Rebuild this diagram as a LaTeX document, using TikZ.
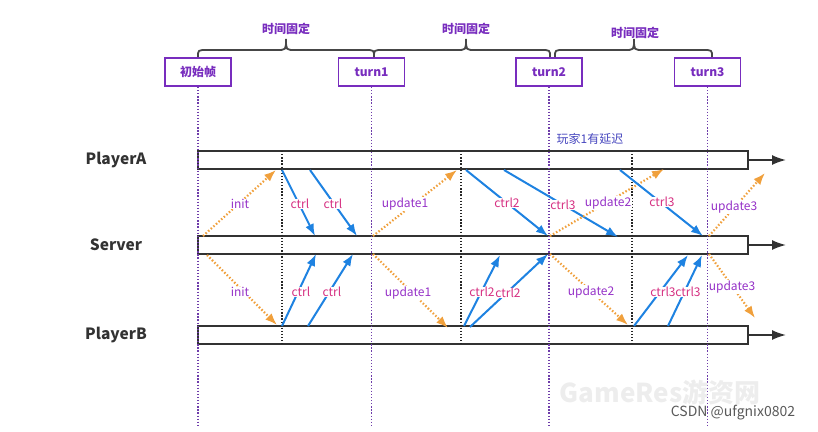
\documentclass[tikz,border=0pt]{standalone}
\usepackage{fontspec}
\setmainfont{Noto Sans CJK SC}
\usetikzlibrary{arrows.meta}
\definecolor{barc}{RGB}{50,50,50}
\definecolor{boxc}{RGB}{120,45,190}
\definecolor{vpur}{RGB}{110,60,170}
\definecolor{bluec}{RGB}{30,130,225}
\definecolor{orc}{RGB}{240,160,60}
\definecolor{ctrlc}{RGB}{214,48,130}
\definecolor{updc}{RGB}{150,50,200}
\definecolor{delayc}{RGB}{70,70,190}
\definecolor{bracec}{RGB}{70,70,70}
\tikzset{
  bar/.style={draw=barc, line width=1.7pt, fill=white, minimum width=550pt, minimum height=18pt, inner sep=0pt},
  tbox/.style={draw=boxc, line width=1.8pt, minimum width=66pt, minimum height=28pt, inner sep=0pt, text=boxc, font=\bfseries\fontsize{12}{14}\selectfont},
  pdot/.style={draw=vpur, line width=1.6pt, dash pattern=on 1.3pt off 1.8pt},
  kdot/.style={draw=black!85, line width=1.6pt, dash pattern=on 1.3pt off 1.8pt},
  bmsg/.style={draw=bluec, line width=2pt, -{Latex[length=12pt,width=9pt]}},
  omsg/.style={draw=orc, line width=2.2pt, dash pattern=on 1.5pt off 2pt, -{Latex[length=12pt,width=9pt]}},
  barrow/.style={draw=barc, line width=1.7pt, -{Latex[length=14pt,width=10pt]}},
  brc/.style={draw=bracec, line width=1.8pt},
  plbl/.style={text=barc, font=\bfseries\fontsize{15.5}{18}\selectfont},
  clbl/.style={fill=white, inner sep=0.6pt, text=ctrlc, font=\fontsize{12}{14}\selectfont},
  ulbl/.style={fill=white, inner sep=0.6pt, text=updc, font=\fontsize{12}{14}\selectfont},
  tlbl/.style={text=boxc, font=\bfseries\fontsize{12}{14}\selectfont},
}
\begin{document}
\begin{tikzpicture}[x=1pt,y=-1pt]
\useasboundingbox (0,0) rectangle (818,431);
% top boxes
\node[tbox] (b0) at (198,72) {初始帧};
\node[tbox] (b1) at (371.5,72) {turn1};
\node[tbox] (b2) at (549,72) {turn2};
\node[tbox] (b3) at (707.5,72) {turn3};
% braces
\draw[brc] (198,57) .. controls (198,50) .. (207,50) -- (277,50) .. controls (286,50) .. (286,39) .. controls (286,50) .. (295,50) -- (365,50) .. controls (374,50) .. (374,57);
\draw[brc] (374,57) .. controls (374,50) .. (383,50) -- (457,50) .. controls (466,50) .. (466,39) .. controls (466,50) .. (475,50) -- (541,50) .. controls (550,50) .. (550,57);
\draw[brc] (555,57) .. controls (555,50) .. (564,50) -- (625,50) .. controls (634,50) .. (634,39) .. controls (634,50) .. (643,50) -- (703,50) .. controls (712,50) .. (712,57);
\node[tlbl] (t1) at (286,29) {时间固定};
\node[tlbl] (t2) at (466,29) {时间固定};
\node[tlbl] (t3) at (635,33) {时间固定};
% player labels
\node[plbl] (pa) at (116,160) {PlayerA};
\node[plbl] (sv) at (116,245) {Server};
\node[plbl] (pb) at (116,335) {PlayerB};
% bars
\node[bar] (barA) at (473,160) {};
\node[bar] (barS) at (473,245) {};
\node[bar] (barB) at (473,335) {};
\coordinate (eA) at (786,160);
\coordinate (eS) at (786,245);
\coordinate (eB) at (786,335);
\draw[barrow] (barA.east) -- (eA);
\draw[barrow] (barS.east) -- (eS);
\draw[barrow] (barB.east) -- (eB);
% vertical dotted lines
\coordinate (v0) at (198,425);
\coordinate (v1) at (371.5,425);
\coordinate (v2) at (549,425);
\coordinate (v3) at (707.5,425);
\draw[pdot] (b0.south) -- (v0);
\draw[pdot] (b1.south) -- (v1);
\draw[pdot] (b2.south) -- (v2);
\draw[pdot] (b3.south) -- (v3);
\coordinate (k1t) at (282,151); \coordinate (k1b) at (282,344);
\coordinate (k2t) at (461,151); \coordinate (k2b) at (461,344);
\coordinate (k3t) at (632,151); \coordinate (k3b) at (632,344);
\draw[kdot] (k1t) -- (k1b);
\draw[kdot] (k2t) -- (k2b);
\draw[kdot] (k3t) -- (k3b);
% A side messages
\coordinate (a1s) at (203,236); \coordinate (a1e) at (276,170);
\coordinate (a2s) at (282,170); \coordinate (a2e) at (315,236);
\coordinate (a3s) at (310,170); \coordinate (a3e) at (357,236);
\coordinate (a4s) at (373,236); \coordinate (a4e) at (457,170);
\coordinate (a5s) at (466,170); \coordinate (a5e) at (548,236);
\coordinate (a6s) at (504,170); \coordinate (a6e) at (618,237);
\coordinate (a7s) at (550,236); \coordinate (a7e) at (664,169);
\coordinate (a8s) at (620,170); \coordinate (a8e) at (703,236);
\coordinate (a9s) at (709,236); \coordinate (a9e) at (765,173);
\draw[omsg] (a1s) -- (a1e);
\draw[bmsg] (a2s) -- (a2e);
\draw[bmsg] (a3s) -- (a3e);
\draw[omsg] (a4s) -- (a4e);
\draw[bmsg] (a5s) -- (a5e);
\draw[bmsg] (a6s) -- (a6e);
\draw[omsg] (a7s) -- (a7e);
\draw[bmsg] (a8s) -- (a8e);
\draw[omsg] (a9s) -- (a9e);
\node[ulbl] (la1) at (240,204) {init};
\node[clbl] (la2) at (300,204) {ctrl};
\node[clbl] (la3) at (333,204) {ctrl};
\node[ulbl] (la4) at (405,204) {update1};
\node[clbl] (la5) at (507,203) {ctrl2};
\node[clbl] (la6) at (563,205) {ctrl3};
\node[ulbl] (la7) at (608,203) {update2};
\node[clbl] (la8) at (662,202) {ctrl3};
\node[ulbl] (la9) at (734,207) {update3};
% B side messages
\coordinate (c1s) at (207,255); \coordinate (c1e) at (277,325);
\coordinate (c2s) at (282,326); \coordinate (c2e) at (316,254);
\coordinate (c3s) at (308,326); \coordinate (c3e) at (353,254);
\coordinate (c4s) at (373,254); \coordinate (c4e) at (448,328);
\coordinate (c5s) at (464,326); \coordinate (c5e) at (500,255);
\coordinate (c6s) at (470,327); \coordinate (c6e) at (548,254);
\coordinate (c7s) at (550,254); \coordinate (c7e) at (628,325);
\coordinate (c8s) at (634,326); \coordinate (c8e) at (688,255);
\coordinate (c9s) at (668,326); \coordinate (c9e) at (702,255);
\coordinate (c10s) at (709,254); \coordinate (c10e) at (755,318);
\draw[omsg] (c1s) -- (c1e);
\draw[bmsg] (c2s) -- (c2e);
\draw[bmsg] (c3s) -- (c3e);
\draw[omsg] (c4s) -- (c4e);
\draw[bmsg] (c5s) -- (c5e);
\draw[bmsg] (c6s) -- (c6e);
\draw[omsg] (c7s) -- (c7e);
\draw[bmsg] (c8s) -- (c8e);
\draw[bmsg] (c9s) -- (c9e);
\draw[omsg] (c10s) -- (c10e);
\node[ulbl] (lc1) at (240,292) {init};
\node[clbl] (lc2) at (301,292) {ctrl};
\node[clbl] (lc3) at (332,292) {ctrl};
\node[ulbl] (lc4) at (408,293) {update1};
\node[clbl] (lc5) at (482,292) {ctrl2};
\node[clbl] (lc6) at (508,293) {ctrl2};
\node[ulbl] (lc7) at (591,292) {update2};
\node[clbl] (lc8) at (663,292) {ctrl3};
\node[clbl] (lc9) at (688,292) {ctrl3};
\node[ulbl] (lc10) at (732,287) {update3};
% delay note
\node[text=delayc, font=\fontsize{12}{14}\selectfont] (dl) at (590,139) {玩家1有延迟};
% watermarks
\node[text=black!7, font=\bfseries\fontsize{26}{30}\selectfont, inner sep=0pt] (wm) at (660,392) {GameRes游资网};
\node[text=black!65, font=\fontsize{14}{16}\selectfont, inner sep=1pt] (csdn) at (733,413) {CSDN @ufgnix0802};
\end{tikzpicture}
\end{document}
